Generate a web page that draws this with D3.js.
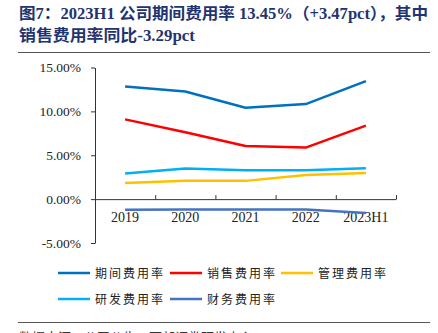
<!DOCTYPE html>
<html>
<head>
<meta charset="utf-8">
<script src="https://d3js.org/d3.v7.min.js"></script>
<style>
    body { margin: 0; background: #fff; }
    svg text { font-family: "Liberation Serif", "Noto Sans CJK SC", serif; }
</style>
</head>
<body>
<div id="chart"></div>
<script>
    // Expense ratios (%) by period
    var periods = ['2019', '2020', '2021', '2022', '2023H1'];
    var seriesNames = ['期间费用率', '销售费用率', '管理费用率', '研发费用率', '财务费用率'];
    var seriesColors = ['#0070C0', '#FF0000', '#FFC000', '#00B0F0', '#4472C4'];
    var periodRate = [12.84, 12.27, 10.42, 10.83, 13.45];
    var salesRate = [9.09, 7.62, 6.06, 5.87, 8.37];
    var adminRate = [1.85, 2.08, 2.08, 2.76, 2.99];
    var rdRate = [2.92, 3.49, 3.28, 3.28, 3.52];
    var financeRate = [-1.21, -1.18, -1.19, -1.19, -1.59];
    var yTicks = [-5, 0, 5, 10, 15];

    var allSeries = [periodRate, salesRate, adminRate, rdRate, financeRate];

    var width = 438, height = 333;
    var svg = d3.select('#chart').append('svg')
        .attr('width', width)
        .attr('height', height);

    // title
    var titleColor = '#1F3470';
    svg.append('text')
        .attr('x', 19).attr('y', 19)
        .attr('font-size', 16).attr('font-weight', 'bold')
        .attr('fill', titleColor)
        .attr('textLength', 409).attr('lengthAdjust', 'spacingAndGlyphs')
        .text('图7：2023H1 公司期间费用率 13.45%（+3.47pct），其中');
    svg.append('text')
        .attr('x', 19).attr('y', 41)
        .attr('font-size', 16).attr('font-weight', 'bold')
        .attr('fill', titleColor)
        .attr('textLength', 176).attr('lengthAdjust', 'spacingAndGlyphs')
        .text('销售费用率同比-3.29pct');
    svg.append('line')
        .attr('x1', 18).attr('x2', 430).attr('y1', 52.5).attr('y2', 52.5)
        .attr('stroke', '#555').attr('stroke-width', 1);

    // scales
    var plotLeft = 95, plotRight = 396;
    var x = d3.scaleBand().domain(periods).range([plotLeft, plotRight]).padding(0);
    var xEdges = d3.scaleLinear().domain([0, periods.length]).range([plotLeft, plotRight]);
    var y = d3.scaleLinear().domain([-5, 15]).range([243, 67.5]);

    // y axis
    var yAxis = svg.append('g')
        .attr('transform', 'translate(' + plotLeft + ',0)')
        .call(d3.axisLeft(y).tickValues(yTicks).tickSize(4).tickSizeOuter(0)
            .tickFormat(function (d) { return d.toFixed(2) + '%'; }));
    yAxis.selectAll('text').attr('font-size', 13.5).attr('fill', '#222').attr('x', -14);
    yAxis.selectAll('line, path').attr('stroke', '#333');

    // x axis at zero, ticks between categories pointing up
    var xAxis = svg.append('g')
        .attr('transform', 'translate(0,' + y(0) + ')')
        .call(d3.axisBottom(xEdges).tickValues(d3.range(1, periods.length + 1))
            .tickSize(-4).tickSizeOuter(0).tickFormat(''));
    xAxis.selectAll('line, path').attr('stroke', '#333');

    svg.append('g').selectAll('text')
        .data(periods)
        .join('text')
        .attr('x', function (d) { return x(d) + x.bandwidth() / 2; })
        .attr('y', 222)
        .attr('text-anchor', 'middle')
        .attr('font-size', 14)
        .attr('fill', '#222')
        .text(function (d) { return d; });

    // lines
    var line = d3.line()
        .x(function (d, i) { return x(periods[i]) + x.bandwidth() / 2; })
        .y(function (d) { return y(d); });

    svg.append('g').selectAll('path')
        .data(allSeries)
        .join('path')
        .attr('d', line)
        .attr('fill', 'none')
        .attr('stroke', function (d, i) { return seriesColors[i]; })
        .attr('stroke-width', 2.5)
        .attr('stroke-linejoin', 'round');

    // legend
    var legendPos = [[58, 273], [170, 273], [281, 273], [58, 299], [170, 299]];
    var legend = svg.append('g').selectAll('g')
        .data(seriesNames)
        .join('g')
        .attr('transform', function (d, i) { return 'translate(' + legendPos[i][0] + ',' + legendPos[i][1] + ')'; });
    legend.append('line')
        .attr('x1', 0).attr('x2', 32)
        .attr('stroke', function (d, i) { return seriesColors[i]; })
        .attr('stroke-width', 2.5);
    legend.append('text')
        .attr('x', 37).attr('y', 4.5)
        .attr('font-size', 12)
        .attr('letter-spacing', 2)
        .attr('fill', '#222')
        .text(function (d) { return d; });

    // source footer (runs off the bottom edge)
    svg.append('line')
        .attr('x1', 18).attr('x2', 430).attr('y1', 322.5).attr('y2', 322.5)
        .attr('stroke', '#555').attr('stroke-width', 1);
    svg.append('text')
        .attr('x', 19).attr('y', 342)
        .attr('font-size', 13)
        .attr('fill', '#333')
        .text('数据来源：公司公告，西部证券研发中心');
</script>
</body>
</html>
